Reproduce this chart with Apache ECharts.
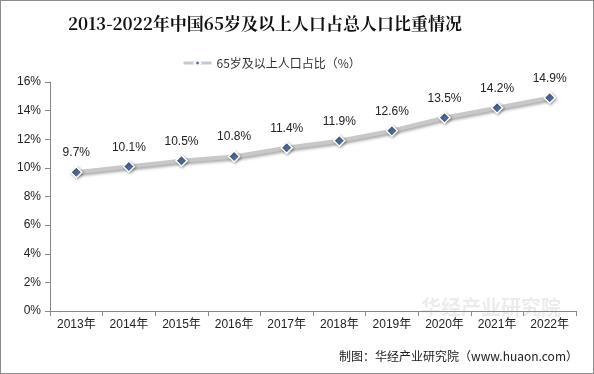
<!DOCTYPE html>
<html><head><meta charset="utf-8">
<script src="https://cdn.jsdelivr.net/npm/echarts@6/dist/echarts.min.js"></script>
<style>html,body{margin:0;padding:0;background:#fff}#c{width:594px;height:374px;box-sizing:border-box;border:1px solid #8c8c8c}</style>
</head><body><div id="c"></div>
<script>
const categories = ['2013年','2014年','2015年','2016年','2017年','2018年','2019年','2020年','2021年','2022年'];
const values = [9.7, 10.1, 10.5, 10.8, 11.4, 11.9, 12.6, 13.5, 14.2, 14.9];
const seriesName = '65岁及以上人口占比（%）';
const chart = echarts.init(document.getElementById('c'), null, {renderer:'canvas'});
chart.setOption({
  animation:false,
  title:{text:'2013-2022年中国65岁及以上人口占总人口比重情况',left:62,top:9,
    textStyle:{fontFamily:'"Noto Serif CJK SC","Noto Sans CJK SC",serif',fontSize:17,fontWeight:'bold',color:'#111'}},
  legend:{top:51,left:176,itemWidth:28,itemHeight:8,itemGap:3,
    lineStyle:{width:3,shadowBlur:0,shadowOffsetX:0,shadowOffsetY:0},
    textStyle:{fontFamily:'"Noto Sans CJK SC",sans-serif',fontSize:12,color:'#333'},data:[seriesName]},
  grid:{left:49,right:17,top:81,bottom:62,containLabel:false},
  xAxis:{type:'category',data:categories,boundaryGap:true,
    axisLine:{lineStyle:{color:'#888'}},
    axisTick:{show:true,length:5,lineStyle:{color:'#888'}},
    axisLabel:{color:'#222',fontSize:12,fontFamily:'Arial,"Noto Sans CJK SC",sans-serif',margin:8}},
  yAxis:{type:'value',min:0,max:16,interval:2,
    axisLine:{show:true,lineStyle:{color:'#888'}},
    axisTick:{show:true,length:5,lineStyle:{color:'#888'}},
    splitLine:{show:false},
    axisLabel:{formatter:'{value}%',color:'#222',fontSize:12,fontFamily:'Arial,sans-serif',margin:9}},
  series:[{name:seriesName,type:'line',data:values,
    symbol:'diamond',symbolSize:11,
    lineStyle:{width:4,color:'#c8c8c8',shadowColor:'rgba(0,0,0,0.35)',shadowBlur:3,shadowOffsetX:1,shadowOffsetY:2},
    itemStyle:{color:'#4f6c98',borderColor:'#fff',borderWidth:1.5,shadowColor:'rgba(0,0,0,0.35)',shadowBlur:3,shadowOffsetX:1,shadowOffsetY:1},
    label:{show:true,position:'top',distance:7,formatter:p=>p.value.toFixed(1)+'%',
      color:'#222',fontSize:12,fontFamily:'Arial,sans-serif'}}],
  graphic:[
    {type:'text',right:15,bottom:11,style:{text:'制图：华经产业研究院（www.huaon.com）',
      font:'12px "Noto Sans CJK SC",sans-serif',fill:'#222'}},
    {type:'text',left:420,top:296,style:{text:'华经产业研究院',font:'bold 20px "Noto Sans CJK SC",sans-serif',fill:'rgba(180,180,180,0.25)'}}
  ]
});
</script></body></html>
